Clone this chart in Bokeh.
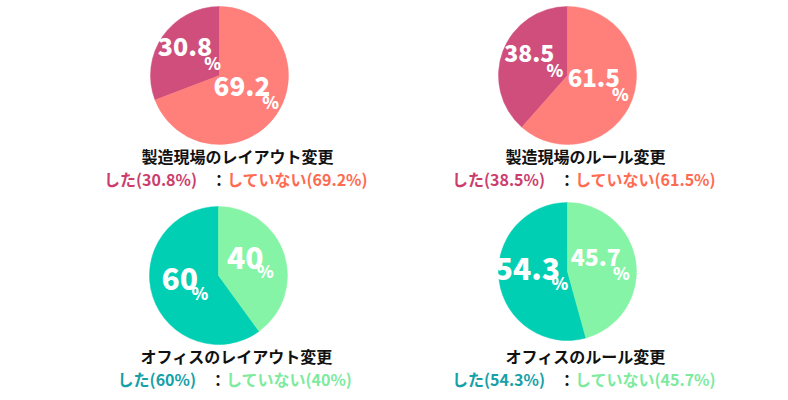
import math
from bokeh.plotting import figure
from bokeh.models import ColumnDataSource, Range1d
from bokeh.core.properties import value
from bokeh.embed import file_html
from bokeh.resources import INLINE

# ---------------- data ----------------
titles = ["製造現場のレイアウト変更", "製造現場のルール変更",
          "オフィスのレイアウト変更", "オフィスのルール変更"]
did = [30.8, 38.5, 60, 54.3]          # した
did_not = [69.2, 61.5, 40, 45.7]      # していない
label_did = "した"
label_not = "していない"

# ---------------- styles / layout ----------------
slice_dark = ["#D04E7C", "#D04E7C", "#00CFB4", "#00CFB4"]
slice_light = ["#FF7F7B", "#FF7F7B", "#86F4A6", "#86F4A6"]
text_dark = ["#CC3D6E", "#CC3D6E", "#16A0A8", "#16A0A8"]
text_light = ["#FF6B50", "#FF6B50", "#7EEA9E", "#7EEA9E"]
num_sizes_dark = [25, 23, 30, 30]
num_sizes_light = [26, 24, 30, 23]
centers_img = [(219, 75), (567, 75), (218, 275), (567, 271)]
radius = 69
title_y_img = [155, 155, 355, 355]
sub_y_img = [178, 178, 378, 378]

FONT = "Noto Sans CJK JP"
NUM_FONT = "'Noto Sans CJK JP Black', 'Noto Sans CJK JP'"
W, H = 780, 396
PCT_FS = 17
BASE_FIX = 11


def ydat(y_img):
    return H - y_img


def fmt(v):
    return f"{v:g}"


def est_width(s, fs):
    w = 0.0
    for ch in s:
        if ch.isdigit():
            w += 0.57
        elif ch == ".":
            w += 0.26
        elif ch == "%":
            w += 0.85
        elif ch in "()":
            w += 0.36
        else:
            w += 1.0
    return w * fs


p = figure(width=W, height=H, x_range=Range1d(0, W), y_range=Range1d(0, H),
           output_backend="svg", toolbar_location=None, min_border=0)
p.axis.visible = False
p.grid.visible = False
p.outline_line_color = None
p.background_fill_color = "white"

wx, wy, ws, we, wc = [], [], [], [], []
nx, ny, nt, nfs = [], [], [], []
px_, py_ = [], []
r_lab = 0.5 * radius
for i in range(4):
    cx, cyi = centers_img[i]
    cy = ydat(cyi)
    d = did[i]
    a0 = math.pi / 2
    a1 = a0 + 2 * math.pi * d / 100
    a2 = a0 + 2 * math.pi
    wx += [cx, cx]; wy += [cy, cy]
    ws += [a0, a1]; we += [a1, a2]
    wc += [slice_dark[i], slice_light[i]]
    for val, mid, fs in [(d, (a0 + a1) / 2, num_sizes_dark[i]),
                         (did_not[i], (a1 + a2) / 2, num_sizes_light[i])]:
        gx = cx + r_lab * math.cos(mid)
        gy_img = cyi - r_lab * math.sin(mid)
        txt = fmt(val)
        ncx = gx - 6
        ncy_img = gy_img - 7
        nx.append(ncx)
        ny.append(ydat(ncy_img + 0.36 * fs - BASE_FIX))
        nt.append(txt); nfs.append(f"{fs}px")
        px_.append(ncx + est_width(txt, fs) / 2 + 3)
        py_.append(ydat(ncy_img + 18 + 0.36 * PCT_FS - BASE_FIX))

wsrc = ColumnDataSource(dict(x=wx, y=wy, s=ws, e=we, c=wc))
p.wedge(x="x", y="y", radius=radius, start_angle="s", end_angle="e",
        fill_color="c", line_color="c", line_width=0.5, source=wsrc)

nsrc = ColumnDataSource(dict(x=nx, y=ny, t=nt, fs=nfs))
p.text(x="x", y="y", text="t", text_font_size="fs", text_color="white",
       text_font=value(NUM_FONT), text_font_style="bold", text_align="center",
       text_baseline="alphabetic", source=nsrc)
psrc = ColumnDataSource(dict(x=px_, y=py_, t=["%"] * len(px_)))
p.text(x="x", y="y", text="t", text_font_size=f"{PCT_FS}px", text_color="white",
       text_font=value(NUM_FONT), text_font_style="bold", text_align="center",
       text_baseline="alphabetic", source=psrc)

# titles and subtitles
FS = 16
tx, ty, tt = [], [], []
lx_, ly_, lt, lc = [], [], [], []
rx_, ry_, rt, rc = [], [], [], []
cx2, cy2 = [], []
for i in range(4):
    cx, _ = centers_img[i]
    tcx = cx + 18
    tx.append(tcx); ty.append(ydat(title_y_img[i])); tt.append(titles[i])
    left = f"{label_did}({fmt(did[i])}%)"
    right = f"{label_not}({fmt(did_not[i])}%)"
    wl = est_width(left, FS)
    gap = 17
    wr = est_width("：" + right, FS)
    total = wl + gap + wr
    gxp = tcx - total / 2 + wl
    sy = ydat(sub_y_img[i])
    lx_.append(gxp); ly_.append(sy); lt.append(left); lc.append(text_dark[i])
    cx2.append(gxp + gap - 3); cy2.append(sy)
    rx_.append(gxp + gap - 3 + FS); ry_.append(sy); rt.append(right); rc.append(text_light[i])

p.text(x="x", y="y", text="t", source=ColumnDataSource(dict(x=tx, y=ty, t=tt)),
       text_font=value(FONT), text_font_style="bold", text_font_size=f"{FS}px",
       text_color="#111111", text_align="center", text_baseline="middle")
p.text(x="x", y="y", text="t", text_color="c",
       source=ColumnDataSource(dict(x=lx_, y=ly_, t=lt, c=lc)),
       text_font=value(FONT), text_font_style="bold", text_font_size=f"{FS}px",
       text_align="right", text_baseline="middle")
p.text(x="x", y="y", text="t",
       source=ColumnDataSource(dict(x=cx2, y=cy2, t=["："] * 4)),
       text_font=value(FONT), text_font_style="bold", text_font_size=f"{FS}px",
       text_color="#111111", text_align="left", text_baseline="middle")
p.text(x="x", y="y", text="t", text_color="c",
       source=ColumnDataSource(dict(x=rx_, y=ry_, t=rt, c=rc)),
       text_font=value(FONT), text_font_style="bold", text_font_size=f"{FS}px",
       text_align="left", text_baseline="middle")

open("out.html", "w").write(file_html(p, INLINE))
